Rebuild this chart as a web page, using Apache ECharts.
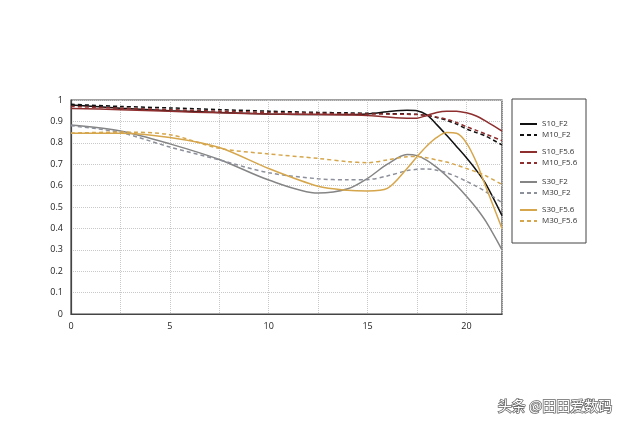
<!DOCTYPE html>
<html>
<head>
<meta charset="utf-8">
<script src="https://cdn.jsdelivr.net/npm/echarts@6/dist/echarts.min.js"></script>
<style>
    html, body {margin: 0; padding: 0; background: #fff;}
    #mtf_chart {width: 640px; height: 427px;}
</style>
</head>
<body>
<div id="mtf_chart"></div>
<script>
// image height (mm) sampled along the x axis
var xs = [0, 2.5, 5, 7.5, 10, 12.5, 14, 15, 16, 17, 17.5, 18, 18.5, 19, 19.5, 20, 20.5, 21, 21.8];
var s10F2 = [0.977, 0.962, 0.950, 0.942, 0.935, 0.932, 0.932, 0.935, 0.945, 0.952, 0.950, 0.930, 0.885, 0.835, 0.783, 0.730, 0.672, 0.605, 0.460];
var m10F2 = [0.980, 0.970, 0.963, 0.955, 0.948, 0.942, 0.940, 0.938, 0.936, 0.935, 0.933, 0.928, 0.918, 0.905, 0.887, 0.865, 0.848, 0.830, 0.790];
var s10F56 = [0.960, 0.955, 0.947, 0.940, 0.935, 0.932, 0.930, 0.928, 0.920, 0.915, 0.915, 0.928, 0.942, 0.948, 0.948, 0.940, 0.925, 0.900, 0.855];
var m10F56 = [0.970, 0.962, 0.955, 0.948, 0.942, 0.938, 0.936, 0.935, 0.934, 0.933, 0.932, 0.928, 0.920, 0.910, 0.895, 0.875, 0.858, 0.840, 0.810];
var s30F2 = [0.883, 0.855, 0.795, 0.722, 0.626, 0.565, 0.585, 0.634, 0.700, 0.745, 0.740, 0.718, 0.685, 0.645, 0.600, 0.550, 0.495, 0.430, 0.300];
var m30F2 = [0.880, 0.848, 0.780, 0.720, 0.660, 0.632, 0.627, 0.628, 0.645, 0.670, 0.676, 0.678, 0.672, 0.660, 0.642, 0.620, 0.597, 0.570, 0.520];
var s30F56 = [0.845, 0.845, 0.825, 0.778, 0.680, 0.597, 0.578, 0.575, 0.587, 0.680, 0.735, 0.785, 0.825, 0.848, 0.845, 0.800, 0.710, 0.590, 0.400];
var m30F56 = [0.845, 0.850, 0.838, 0.774, 0.748, 0.727, 0.712, 0.707, 0.720, 0.735, 0.736, 0.730, 0.720, 0.710, 0.696, 0.680, 0.664, 0.645, 0.605];
var names = ['S10_F2', 'M10_F2', 'S10_F5.6', 'M10_F5.6', 'S30_F2', 'M30_F2', 'S30_F5.6', 'M30_F5.6'];

var black = '#111111', red = '#8e2e2e', gray = '#858585', grayDash = '#8c909a', gold = '#d6a64c';

var pairs = function (vals) {
    return xs.map(function (x, i) { return [x, vals[i]]; });
};
var line = function (name, vals, color, dashed) {
    return {
        name: name,
        type: 'line',
        smooth: 0.3,
        symbol: 'none',
        lineStyle: {color: color, width: 1.5, type: dashed ? [4, 3] : 'solid'},
        itemStyle: {color: color},
        data: pairs(vals)
    };
};
var legendText = {fontSize: 8, color: '#333', fontFamily: 'Open Sans'};
var legendAt = function (top, data) {
    return {
        orient: 'vertical',
        left: 514,
        top: top,
        itemWidth: 17,
        itemHeight: 8,
        itemGap: 3,
        itemStyle: {opacity: 0},
        textStyle: legendText,
        selectedMode: false,
        data: data
    };
};
var option = {
    animation: false,
    grid: {
        left: 71, top: 100, right: 138, bottom: 113,
        show: true, borderColor: '#444', borderWidth: 1.2
    },
    legend: [
        legendAt(115, [names[0], names[1]]),
        legendAt(143, [names[2], names[3]]),
        legendAt(173, [names[4], names[5]]),
        legendAt(201, [names[6], names[7]])
    ],
    xAxis: {
        type: 'value',
        min: 0,
        max: 21.8,
        interval: 2.5,
        axisLine: {show: true, lineStyle: {color: '#444', width: 1.2}},
        axisTick: {show: false},
        axisLabel: {
            fontSize: 9, color: '#222', margin: 8, fontFamily: 'Open Sans',
            formatter: function (v) { return v % 5 === 0 ? String(v) : ''; }
        },
        splitLine: {lineStyle: {color: '#c8c8c8', type: [1, 1]}}
    },
    yAxis: {
        type: 'value',
        min: 0,
        max: 1,
        interval: 0.1,
        axisLine: {show: true, lineStyle: {color: '#444', width: 1.2}},
        axisTick: {show: false},
        axisLabel: {fontSize: 9, color: '#222', margin: 8, fontFamily: 'Open Sans'},
        splitLine: {lineStyle: {color: '#c8c8c8', type: [1, 1]}}
    },
    graphic: [{
        type: 'rect',
        shape: {x: 512, y: 99, width: 74, height: 144},
        style: {fill: 'none', stroke: '#444', lineWidth: 1}
    }, {
        type: 'text',
        left: 497,
        top: 398,
        style: {
            text: '头条 @田田爱数码',
            fill: '#ffffff',
            stroke: '#666',
            lineWidth: 1.5,
            font: '14px "Noto Sans CJK SC"'
        }
    }],
    series: [
        line(names[0], s10F2, black, false),
        line(names[1], m10F2, black, true),
        line(names[2], s10F56, red, false),
        line(names[3], m10F56, red, true),
        line(names[4], s30F2, gray, false),
        line(names[5], m30F2, grayDash, true),
        line(names[6], s30F56, gold, false),
        line(names[7], m30F56, gold, true)
    ]
};
var mtfChart = echarts.init(document.getElementById('mtf_chart'));
mtfChart.setOption(option);
</script>
</body>
</html>
